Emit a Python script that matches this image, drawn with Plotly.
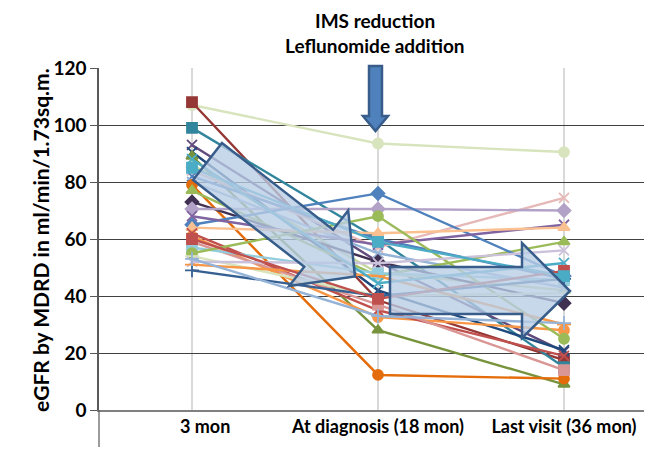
import math
import plotly.graph_objects as go

# ---------------- data ----------------
time_points = [1, 3, 5]
tick_labels = ["\u00a0\u00a0\u00a0\u00a0\u00a0\u00a03 mon", "At diagnosis (18 mon)", "Last visit (36 mon)"]
y_ticks = [0, 20, 40, 60, 80, 100, 120]

egfr_3mon = [107, 108, 99, 93, 90.5, 89, 86, 84, 82, 80, 79, 77, 73, 70.5, 65,
             68, 64, 61, 62, 59, 57, 55, 54, 52, 51, 49, 53, 88, 60, 85]
egfr_18mon = [93.5, 38.5, 60, 52, 42, 28, 48, 57, 60, 55, 12.3, 47, 52, 70.5, 76,
              58, 62, 32.6, 35, 37, 48, 68, 40, 51.5, 47, 40, 33, 44.5, 39, 59]
egfr_36mon = [90.5, 17.5, 15, 20.5, 21, 9, 42, 74.4, 46, 43, 11, 59, 37.5, 70, 47,
              65, 64, 28, 19, 14, 45.6, 25, 41, 56, 30, 46, 30.5, 51.6, 48.8, 47]
series_colors = ["#D7E4BD", "#953735", "#31859C", "#604A7B", "#1F497D", "#77933C",
                 "#C3D69B", "#E6B9B8", "#4F81BD", "#95B3D7", "#E46C0A", "#9BBB59",
                 "#403152", "#B3A2C7", "#4F81BD", "#8064A2", "#FAC090", "#F79646",
                 "#C0504D", "#D99694", "#93CDDD", "#9BBB59", "#D7E4BD", "#CCC1DA",
                 "#F79646", "#376092", "#95B3D7", "#4BACC6", "#C0504D", "#4BACC6"]
series_symbols = ["circle", "square", "square", "x-thin-open", "x-thin-open", "triangle-up",
                  "triangle-up", "x-thin-open", "x-thin-open", "x-thin-open", "circle", "triangle-up",
                  "diamond", "diamond", "diamond", "x-thin-open", "triangle-up", "circle",
                  "x-thin-open", "square", "square", "circle", "line-ew-open", "x-thin-open",
                  "line-ew-open", "cross-thin-open", "cross-thin-open", "x-thin-open", "square", "square"]

# ---------------- figure ----------------
OFF = 8                      # page body margin
W, H = 652 - OFF, 449 - OFF
L, R, T, B = 99 - OFF, 0, 68 - OFF, 39
PW, PH = W - L - R, H - T - B

fig = go.Figure()
for i in range(len(egfr_3mon)):
    c = series_colors[i]
    fig.add_trace(go.Scatter(
        x=time_points,
        y=[egfr_3mon[i], egfr_18mon[i], egfr_36mon[i]],
        mode="lines+markers",
        line=dict(color=c, width=2.4),
        marker=dict(symbol=series_symbols[i], size=10, color=c,
                    line=dict(color=c, width=1.8)),
        showlegend=False,
        hoverinfo="skip",
    ))

FONT = "Lato"

def px2paper(px, py):
    # px, py are screen coordinates of the reference picture
    return (px - OFF - L) / PW, (T + PH - (py - OFF)) / PH

def path_from(points):
    pts = [px2paper(x, y) for x, y in points]
    return "M " + " L ".join(f"{x:.5f},{y:.5f}" for x, y in pts) + " Z"

# diagonal block arrow
tx, ty = 207.5, 161.5
ux, uy = 150, 117
ln = math.hypot(ux, uy)
ux, uy = ux / ln, uy / ln
nx, ny = -uy, ux
w, hh, l1, l2 = 23.5, 48, 141, 187
diag = [
    (tx + w * nx, ty + w * ny),
    (tx + l1 * ux + w * nx, ty + l1 * uy + w * ny),
    (tx + l1 * ux + hh * nx, ty + l1 * uy + hh * ny),
    (tx + l2 * ux, ty + l2 * uy),
    (tx + l1 * ux - hh * nx, ty + l1 * uy - hh * ny),
    (tx + l1 * ux - w * nx, ty + l1 * uy - w * ny),
    (tx - w * nx, ty - w * ny),
]
horiz = [(390, 267), (522, 267), (522, 243), (570, 291), (522, 338), (522, 314), (390, 314)]
down = [(369, 66), (382, 66), (382, 116), (388, 116), (375.5, 131), (363, 116), (369, 116)]

shapes = []
for poly, fill in [(diag, "rgba(185,205,229,0.78)"), (horiz, "rgba(185,205,229,0.78)"),
                   (down, "#4F81BD")]:
    shapes.append(dict(type="path", xref="paper", yref="paper", path=path_from(poly),
                       fillcolor=fill, line=dict(color="#385D8A", width=2.5), layer="above"))
# axis extension below the category axis
shapes.append(dict(type="line", xref="paper", yref="paper", x0=0, x1=0, y0=0,
                   y1=-(B - 2) / PH, line=dict(color="#595959", width=1.2)))

fig.update_layout(
    width=W, height=H,
    margin=dict(l=L, r=R, t=T, b=B, pad=0),
    paper_bgcolor="white", plot_bgcolor="white",
    shapes=shapes,
    font=dict(family=FONT, color="black"),
    xaxis=dict(range=[0, PW / 93.0], tickvals=time_points, ticktext=tick_labels,
               showgrid=True, gridcolor="#D9D9D9", gridwidth=2,
               showline=True, linecolor="#808080", linewidth=1.5,
               ticks="", zeroline=False,
               tickfont=dict(family=FONT, size=18, color="black", weight="bold")),
    yaxis=dict(range=[0, 120], tickvals=y_ticks, showgrid=True, gridcolor="#404040",
               gridwidth=1.2, showline=True, linecolor="#595959", linewidth=1.5,
               ticks="outside", ticklen=7, tickcolor="#595959", zeroline=False,
               tickfont=dict(family=FONT, size=19, color="black", weight="bold")),
    annotations=[
        dict(text="IMS reduction", xref="paper", yref="paper", x=px2paper(375, 0)[0],
             y=px2paper(0, 20)[1], showarrow=False, xanchor="center", yanchor="middle",
             font=dict(family=FONT, size=19, color="black", weight="bold")),
        dict(text="Leflunomide addition", xref="paper", yref="paper", x=px2paper(375, 0)[0],
             y=px2paper(0, 45)[1], showarrow=False, xanchor="center", yanchor="middle",
             font=dict(family=FONT, size=19, color="black", weight="bold")),
        dict(text="eGFR by MDRD in ml/min/1.73sq.m.", xref="paper", yref="paper",
             x=px2paper(40, 0)[0], y=px2paper(0, 240)[1], textangle=-90, showarrow=False,
             xanchor="center", yanchor="middle",
             font=dict(family=FONT, size=21, color="black", weight="bold")),
    ],
)

fig.write_html("out.html")
